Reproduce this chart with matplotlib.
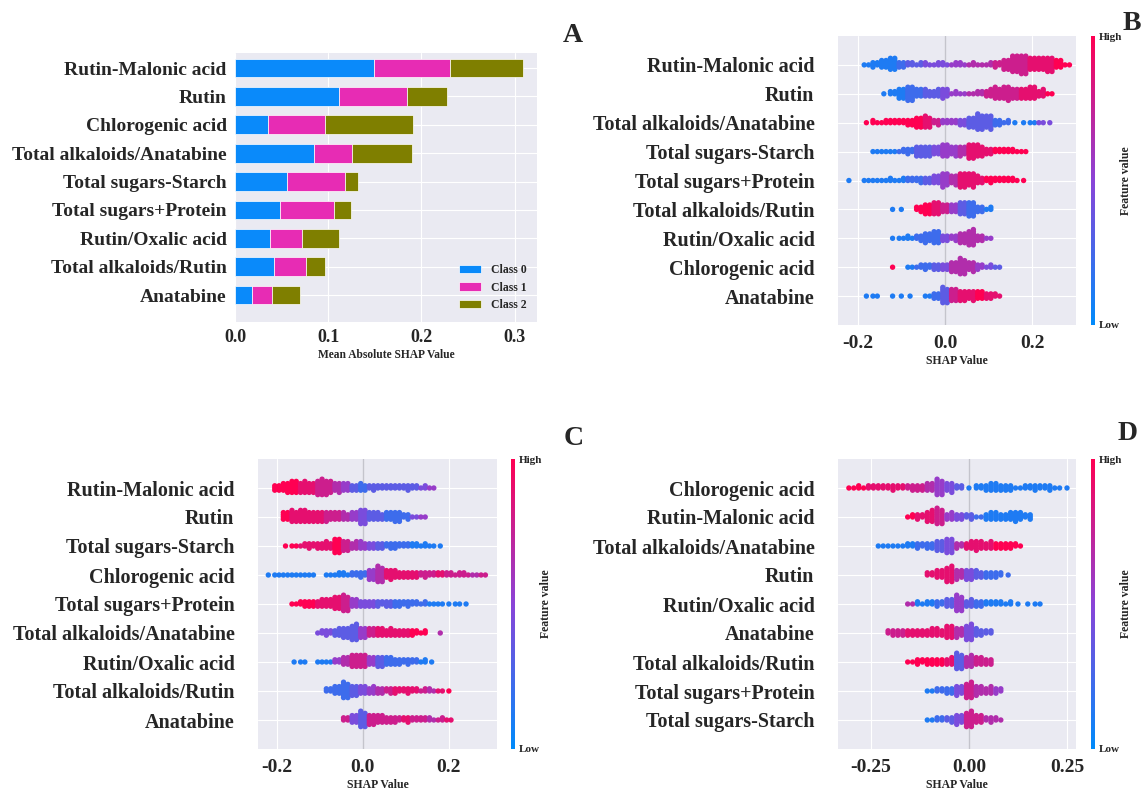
import matplotlib
matplotlib.use('Agg')
import matplotlib.pyplot as plt
import seaborn as sns
from matplotlib.colors import LinearSegmentedColormap
from matplotlib.cm import ScalarMappable

sns.set_style('darkgrid')
plt.rcParams['font.family'] = ['Liberation Serif', 'DejaVu Serif']
plt.rcParams['font.weight'] = 'bold'
plt.rcParams['axes.unicode_minus'] = False

# ---------------- panel A: mean |SHAP| per class ----------------
a_features = ['Rutin-Malonic acid', 'Rutin', 'Chlorogenic acid', 'Total alkaloids/Anatabine',
              'Total sugars-Starch', 'Total sugars+Protein', 'Rutin/Oxalic acid',
              'Total alkaloids/Rutin', 'Anatabine']
a_class0 = [0.149, 0.1115, 0.035, 0.085, 0.056, 0.048, 0.038, 0.0415, 0.018]
a_class1 = [0.082, 0.0735, 0.062, 0.040, 0.062, 0.058, 0.034, 0.0345, 0.022]
a_class2 = [0.078, 0.042, 0.094, 0.065, 0.014, 0.018, 0.0395, 0.0205, 0.030]
class_names = ['Class 0', 'Class 1', 'Class 2']
class_colors = ['#0a8afa', '#e72cb4', '#7f7f00']

# ---------------- beeswarm panels ----------------
# counts of points per SHAP-value bin, and mean feature value (0 low .. 9 high) per bin
grid_bc = [-0.22, -0.20, -0.18, -0.16, -0.14, -0.12, -0.10, -0.08, -0.06, -0.04, -0.02, 0.00, 0.02,
           0.04, 0.06, 0.08, 0.10, 0.12, 0.14, 0.16, 0.18, 0.20, 0.22, 0.24, 0.26, 0.28]
grid_d = [-0.300, -0.275, -0.250, -0.225, -0.200, -0.175, -0.150, -0.125, -0.100, -0.075, -0.050, -0.025,
          0.000, 0.025, 0.050, 0.075, 0.100, 0.125, 0.150, 0.175, 0.200, 0.225, 0.250]

b_features = ['Rutin-Malonic acid', 'Rutin', 'Total alkaloids/Anatabine', 'Total sugars-Starch',
              'Total sugars+Protein', 'Total alkaloids/Rutin', 'Rutin/Oxalic acid',
              'Chlorogenic acid', 'Anatabine']
b_counts = [
    [0, 0, 2, 5, 8, 12, 6, 4, 3, 3, 3, 3, 3, 3, 3, 2, 3, 5, 10, 16, 18, 12, 12, 14, 8, 2],
    [0, 0, 0, 0, 1, 4, 10, 14, 8, 7, 7, 9, 3, 2, 2, 4, 7, 11, 13, 10, 10, 12, 7, 2, 0, 0],
    [0, 0, 1, 3, 3, 4, 4, 6, 10, 11, 5, 4, 4, 6, 10, 15, 13, 6, 3, 1, 1, 2, 2, 1, 0, 0],
    [0, 0, 0, 2, 2, 2, 3, 5, 10, 10, 8, 12, 9, 9, 14, 11, 6, 4, 4, 3, 2, 0, 0, 0, 0, 0],
    [1, 0, 2, 2, 2, 3, 3, 4, 5, 6, 8, 13, 9, 14, 13, 7, 5, 4, 4, 3, 1, 0, 0, 0, 0, 0],
    [0, 0, 0, 0, 0, 1, 1, 0, 5, 10, 12, 8, 8, 12, 14, 6, 3, 0, 0, 0, 0, 0, 0, 0, 0, 0],
    [0, 0, 0, 0, 0, 1, 2, 3, 5, 9, 12, 6, 5, 10, 15, 6, 2, 0, 0, 0, 0, 0, 0, 0, 0, 0],
    [0, 0, 0, 0, 0, 1, 0, 2, 3, 5, 6, 6, 10, 15, 9, 5, 3, 2, 0, 0, 0, 0, 0, 0, 0, 0],
    [0, 0, 1, 2, 0, 1, 1, 1, 0, 2, 6, 15, 12, 10, 9, 8, 6, 3, 0, 0, 0, 0, 0, 0, 0, 0],
]
b_values = [
    [0, 0, 1, 1, 1, 1, 2, 3, 3, 4, 4, 4, 5, 5, 6, 6, 6, 7, 7, 7, 7, 8, 8, 8, 9, 9],
    [0, 0, 0, 0, 1, 1, 1, 2, 2, 3, 3, 4, 5, 5, 6, 6, 7, 7, 7, 7, 8, 8, 8, 9, 0, 0],
    [0, 0, 9, 9, 9, 9, 9, 9, 9, 8, 7, 5, 5, 4, 3, 3, 3, 2, 2, 1, 1, 1, 4, 4, 4, 0],
    [0, 0, 0, 1, 1, 1, 2, 2, 3, 3, 4, 5, 5, 6, 8, 8, 8, 9, 9, 9, 9, 0, 0, 0, 0, 0],
    [1, 0, 1, 1, 1, 1, 1, 2, 2, 3, 4, 5, 6, 8, 8, 8, 9, 9, 9, 9, 9, 0, 0, 0, 0, 0],
    [0, 0, 0, 0, 0, 1, 1, 0, 9, 9, 8, 7, 5, 3, 2, 2, 1, 0, 0, 0, 0, 0, 0, 0, 0, 0],
    [0, 0, 0, 0, 0, 1, 1, 1, 2, 2, 2, 4, 5, 6, 6, 6, 5, 0, 0, 0, 0, 0, 0, 0, 0, 0],
    [0, 0, 0, 0, 0, 9, 0, 1, 2, 2, 3, 4, 6, 6, 6, 5, 4, 3, 0, 0, 0, 0, 0, 0, 0, 0],
    [0, 0, 1, 1, 0, 1, 1, 1, 0, 1, 2, 3, 7, 8, 8, 9, 8, 8, 0, 0, 0, 0, 0, 0, 0, 0],
]

c_features = ['Rutin-Malonic acid', 'Rutin', 'Total sugars-Starch', 'Chlorogenic acid',
              'Total sugars+Protein', 'Total alkaloids/Anatabine', 'Rutin/Oxalic acid',
              'Total alkaloids/Rutin', 'Anatabine']
c_counts = [
    [0, 6, 9, 12, 11, 10, 15, 13, 9, 8, 6, 7, 5, 4, 4, 4, 5, 4, 3, 2, 0, 0, 0, 0, 0, 0],
    [0, 0, 8, 11, 12, 10, 10, 9, 8, 7, 8, 14, 8, 7, 8, 10, 5, 2, 2, 0, 0, 0, 0, 0, 0, 0],
    [0, 0, 1, 2, 3, 5, 6, 7, 14, 10, 7, 7, 6, 6, 5, 5, 4, 4, 3, 2, 1, 0, 0, 0, 0, 0],
    [1, 2, 2, 2, 2, 2, 0, 2, 3, 3, 4, 5, 10, 15, 9, 7, 6, 6, 5, 4, 4, 4, 3, 3, 2, 2],
    [0, 0, 0, 2, 5, 6, 7, 8, 12, 15, 8, 6, 6, 5, 6, 6, 5, 4, 3, 2, 2, 1, 2, 1, 0, 0],
    [0, 0, 0, 0, 0, 0, 3, 5, 7, 10, 15, 10, 8, 8, 7, 6, 6, 5, 3, 0, 1, 0, 0, 0, 0, 0],
    [0, 0, 0, 1, 2, 0, 2, 2, 4, 8, 12, 12, 8, 10, 8, 6, 5, 4, 3, 1, 0, 0, 0, 0, 0, 0],
    [0, 0, 0, 0, 0, 0, 0, 4, 8, 15, 10, 8, 7, 6, 5, 5, 5, 4, 3, 3, 2, 1, 0, 0, 0, 0],
    [0, 0, 0, 0, 0, 0, 0, 0, 0, 4, 8, 15, 10, 8, 6, 5, 5, 4, 4, 3, 3, 2, 0, 0, 0, 0],
]
c_values = [
    [0, 9, 9, 9, 8, 8, 7, 7, 6, 5, 3, 2, 3, 3, 3, 3, 3, 3, 4, 5, 0, 0, 0, 0, 0, 0],
    [0, 0, 9, 8, 8, 8, 8, 7, 7, 6, 5, 4, 3, 3, 2, 2, 2, 4, 5, 0, 0, 0, 0, 0, 0, 0],
    [0, 0, 9, 9, 8, 8, 8, 8, 9, 7, 6, 5, 4, 3, 2, 2, 2, 1, 1, 1, 1, 0, 0, 0, 0, 0],
    [1, 1, 1, 1, 1, 1, 0, 1, 1, 1, 2, 2, 5, 6, 8, 8, 8, 8, 7, 7, 8, 7, 7, 7, 6, 7],
    [0, 0, 0, 9, 9, 9, 8, 8, 8, 7, 5, 4, 4, 3, 3, 2, 2, 2, 2, 1, 1, 1, 1, 1, 0, 0],
    [0, 0, 0, 0, 0, 0, 4, 4, 3, 3, 3, 5, 7, 8, 8, 8, 8, 9, 9, 0, 6, 0, 0, 0, 0, 0],
    [0, 0, 0, 1, 1, 0, 1, 1, 5, 6, 7, 7, 5, 3, 2, 2, 2, 2, 1, 1, 0, 0, 0, 0, 0, 0],
    [0, 0, 0, 0, 0, 0, 0, 2, 2, 2, 3, 4, 5, 6, 7, 8, 8, 8, 7, 6, 8, 9, 0, 0, 0, 0],
    [0, 0, 0, 0, 0, 0, 0, 0, 0, 7, 4, 3, 7, 7, 7, 7, 8, 7, 7, 6, 7, 8, 0, 0, 0, 0],
]

d_features = ['Chlorogenic acid', 'Rutin-Malonic acid', 'Total alkaloids/Anatabine', 'Rutin',
              'Rutin/Oxalic acid', 'Anatabine', 'Total alkaloids/Rutin',
              'Total sugars+Protein', 'Total sugars-Starch']
d_counts = [
    [2, 3, 4, 4, 5, 4, 5, 6, 8, 15, 9, 4, 1, 4, 7, 7, 6, 2, 4, 5, 5, 2, 1],
    [0, 0, 0, 0, 0, 0, 3, 5, 11, 15, 7, 6, 5, 2, 7, 7, 7, 9, 5, 0, 0, 0, 0],
    [0, 0, 0, 2, 2, 2, 4, 5, 6, 10, 14, 5, 7, 9, 7, 6, 6, 3, 0, 0, 0, 0, 0],
    [0, 0, 0, 0, 0, 0, 0, 0, 4, 8, 15, 9, 10, 7, 6, 5, 1, 0, 0, 0, 0, 0, 0],
    [0, 0, 0, 0, 0, 0, 2, 3, 4, 5, 8, 15, 7, 6, 4, 4, 3, 1, 1, 2, 0, 0, 0],
    [0, 0, 0, 0, 5, 6, 6, 6, 7, 7, 12, 9, 15, 7, 4, 0, 0, 0, 0, 0, 0, 0, 0],
    [0, 0, 0, 0, 0, 0, 2, 5, 6, 6, 7, 15, 11, 8, 6, 0, 0, 0, 0, 0, 0, 0, 0],
    [0, 0, 0, 0, 0, 0, 0, 0, 2, 4, 6, 9, 15, 9, 7, 5, 0, 0, 0, 0, 0, 0, 0],
    [0, 0, 0, 0, 0, 0, 0, 0, 2, 4, 5, 9, 15, 8, 5, 3, 0, 0, 0, 0, 0, 0, 0],
]
d_values = [
    [9, 9, 8, 8, 8, 8, 7, 7, 6, 5, 4, 3, 1, 1, 1, 1, 1, 1, 1, 1, 1, 1, 1],
    [0, 0, 0, 0, 0, 0, 9, 8, 8, 7, 5, 4, 3, 2, 1, 1, 1, 1, 1, 0, 0, 0, 0],
    [0, 0, 0, 1, 1, 1, 1, 2, 2, 3, 4, 6, 8, 8, 8, 9, 9, 9, 0, 0, 0, 0, 0],
    [0, 0, 0, 0, 0, 0, 0, 0, 8, 8, 8, 6, 4, 3, 2, 2, 2, 0, 0, 0, 0, 0, 0],
    [0, 0, 0, 0, 0, 0, 6, 1, 1, 2, 3, 5, 3, 2, 1, 1, 1, 1, 1, 1, 0, 0, 0],
    [0, 0, 0, 0, 7, 7, 8, 8, 8, 8, 8, 6, 4, 3, 3, 0, 0, 0, 0, 0, 0, 0, 0],
    [0, 0, 0, 0, 0, 0, 9, 9, 9, 9, 8, 3, 6, 7, 7, 0, 0, 0, 0, 0, 0, 0, 0],
    [0, 0, 0, 0, 0, 0, 0, 0, 1, 2, 2, 4, 7, 6, 6, 5, 0, 0, 0, 0, 0, 0, 0],
    [0, 0, 0, 0, 0, 0, 0, 0, 1, 2, 3, 4, 7, 7, 6, 6, 0, 0, 0, 0, 0, 0, 0],
]

# shap-like red/blue colormap
shap_cmap = LinearSegmentedColormap.from_list('shap_rb', ['#008bfb', '#8a44d8', '#ff0052'])

W, H = 1142, 791
fig = plt.figure(figsize=(W / 100, H / 100), dpi=100)


def px(l, t, r, b):
    return [l / W, 1 - b / H, (r - l) / W, (b - t) / H]


# ---------------- A ----------------
ax = fig.add_axes(px(235, 53, 537, 322))
pos = list(range(len(a_features) - 1, -1, -1))
left = [0.0] * len(a_features)
for vals, name, col in zip([a_class0, a_class1, a_class2], class_names, class_colors):
    ax.barh(pos, vals, left=left, height=0.66, color=col, label=name,
            edgecolor='white', linewidth=0.5, zorder=3)
    left = [l + v for l, v in zip(left, vals)]
ax.set_yticks(pos)
ax.set_yticklabels(a_features, fontsize=14, fontweight='bold')
ax.set_ylim(-0.95, 8.53)
ax.set_xlim(0, 0.324)
ax.set_xticks([0.0, 0.1, 0.2, 0.3])
ax.set_xticklabels(['0.0', '0.1', '0.2', '0.3'], fontsize=13, fontweight='bold')
ax.tick_params(axis='y', length=0, pad=6)
ax.tick_params(axis='x', length=3, width=1, color='#333333', pad=2)
ax.set_xlabel('Mean Absolute SHAP Value', fontsize=8.3, fontweight='bold', labelpad=2)
ax.legend(loc='lower right', bbox_to_anchor=(0.967, 0.041), frameon=False,
          prop={'size': 8.5, 'weight': 'bold'}, handlelength=1.9, handleheight=0.7,
          handletextpad=0.85, labelspacing=0.45, borderpad=0, borderaxespad=0)
for s in ax.spines.values():
    s.set_visible(False)


# ---------------- beeswarms ----------------
def beeswarm(rect, cbar_rect, features, grid, counts, values, xlim, ticks, ticklabels):
    ax = fig.add_axes(px(*rect))
    nrow = len(features)
    bw = grid[1] - grid[0]
    xs, ys, cs = [], [], []
    for r in range(nrow):
        y0 = nrow - 1 - r
        for i, (center, n, v) in enumerate(zip(grid, counts[r], values[r])):
            if n == 1:
                cols = [(center, 1)]
            else:
                # two stacked columns per bin, like shap's fine binning
                first = (n + 1) // 2 if i % 2 else n // 2
                cols = [(center - bw / 4, first), (center + bw / 4, n - first)]
            for cx, m in cols:
                for k in range(m):
                    lev = (k + 1) // 2
                    xs.append(cx)
                    ys.append(y0 + (lev if k % 2 else -lev) * 0.076)
                    cs.append(v / 9)
    ax.axvline(0, color='#c4c4cc', lw=1, zorder=1)
    ax.scatter(xs, ys, c=cs, cmap=shap_cmap, vmin=0, vmax=1, s=15, linewidths=0, zorder=3)
    ax.set_yticks(list(range(nrow - 1, -1, -1)))
    ax.set_yticklabels(features, fontsize=14.5, fontweight='bold')
    ax.set_ylim(-1, nrow)
    ax.set_xlim(*xlim)
    ax.set_xticks(ticks)
    ax.set_xticklabels(ticklabels, fontsize=14, fontweight='bold')
    ax.tick_params(axis='y', length=0, pad=17)
    ax.tick_params(axis='x', length=3, width=1, color='#333333', pad=4)
    ax.set_xlabel('SHAP Value', fontsize=8.5, fontweight='bold', labelpad=2)
    for s in ax.spines.values():
        s.set_visible(False)

    cax = fig.add_axes(px(*cbar_rect))
    cb = fig.colorbar(ScalarMappable(cmap=shap_cmap), cax=cax, ticks=[0, 1])
    cb.outline.set_visible(False)
    cb.ax.set_yticklabels(['Low', 'High'], fontsize=8, fontweight='bold')
    cb.ax.tick_params(length=0, pad=3)
    cb.set_label('Feature value', fontsize=8.5, fontweight='bold', labelpad=-2)
    return ax


beeswarm((838, 36, 1076, 325), (1091, 36, 1095, 325), b_features, grid_bc, b_counts, b_values,
         (-0.245, 0.30), [-0.2, 0.0, 0.2], ['-0.2', '0.0', '0.2'])
beeswarm((258, 459, 497, 749), (511, 459, 515, 749), c_features, grid_bc, c_counts, c_values,
         (-0.244, 0.312), [-0.2, 0.0, 0.2], ['-0.2', '0.0', '0.2'])
beeswarm((838, 459, 1076, 749), (1091, 459, 1095, 749), d_features, grid_d, d_counts, d_values,
         (-0.334, 0.273), [-0.25, 0.0, 0.25], ['-0.25', '0.00', '0.25'])

# panel letters
for letter, x, y in [('A', 573, 35), ('B', 1132, 24), ('C', 574, 438), ('D', 1128, 433)]:
    fig.text(x / W, 1 - y / H, letter, fontsize=20, fontweight='bold', ha='center', va='center')

fig.savefig('out.png', dpi=100, facecolor='white')
